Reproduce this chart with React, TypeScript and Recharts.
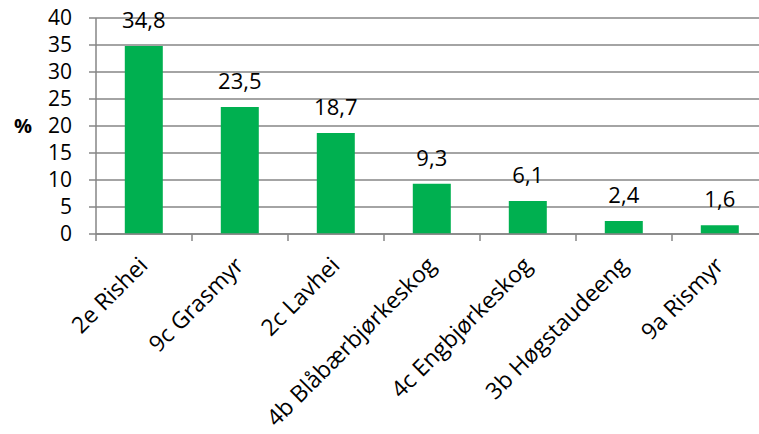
import { Bar, BarChart, CartesianGrid, LabelList, XAxis, YAxis } from "recharts";

const categories = [
  "2e Rishei",
  "9c Grasmyr",
  "2c Lavhei",
  "4b Blåbærbjørkeskog",
  "4c Engbjørkeskog",
  "3b Høgstaudeeng",
  "9a Rismyr"
];
const shares = [34.8, 23.5, 18.7, 9.3, 6.1, 2.4, 1.6];
const yTicks = [0, 5, 10, 15, 20, 25, 30, 35, 40];

const data = categories.map((name, i) => ({ name, share: shares[i] }));

const CHART_W = 790;
const CHART_H = 434;
const MARGIN = { top: 18, right: 22, left: 0, bottom: 10 };
const Y_AXIS_W = 96;
const FONT = "'Open Sans', Lato, sans-serif";
const AXIS_GREY = "#868686";

const plotWidth = CHART_W - MARGIN.left - MARGIN.right - Y_AXIS_W;
const step = plotWidth / categories.length;

function formatShare(value: number) {
  return value.toFixed(1).replace(".", ",");
}

type TickProps = { x: number; y: number; payload: { value: string } };

function CategoryTick({ x, y, payload }: TickProps) {
  const left = x - step / 2;
  const tx = x + 5;
  const ty = y + 33;
  return (
    <g>
      <line x1={left} y1={y} x2={left} y2={y + 7} stroke={AXIS_GREY} strokeWidth={1.5} />
      <text
        x={tx}
        y={ty}
        transform={`rotate(-45 ${tx} ${ty})`}
        textAnchor="end"
        fontSize={23}
        fontFamily={FONT}
        fill="#000"
      >
        {payload.value}
      </text>
    </g>
  );
}

export default function App() {
  return (
    <div
      style={{
        position: "absolute",
        left: 0,
        top: 0,
        width: 759,
        height: CHART_H,
        overflow: "hidden",
        background: "#fff"
      }}
    >
      <BarChart width={CHART_W} height={CHART_H} data={data} margin={MARGIN} barCategoryGap="30%">
        <CartesianGrid vertical={false} stroke={AXIS_GREY} strokeWidth={1.3} />
        <XAxis
          dataKey="name"
          interval={0}
          height={190}
          tickLine={false}
          tickSize={0}
          tickMargin={0}
          axisLine={{ stroke: AXIS_GREY, strokeWidth: 1.5 }}
          tick={(props: TickProps) => <CategoryTick {...props} />}
        />
        <YAxis
          width={Y_AXIS_W}
          domain={[0, 40]}
          ticks={yTicks}
          interval={0}
          tickSize={7}
          tickMargin={17}
          tickLine={{ stroke: AXIS_GREY, strokeWidth: 1.5 }}
          axisLine={{ stroke: AXIS_GREY, strokeWidth: 1.5 }}
          tick={{ fill: "#000", fontSize: 21, fontFamily: FONT }}
          label={{
            value: "%",
            position: "insideLeft",
            offset: 14,
            fill: "#000",
            fontSize: 20,
            fontWeight: "bold",
            fontFamily: FONT
          }}
        />
        <Bar dataKey="share" fill="#00B050" isAnimationActive={false}>
          <LabelList
            dataKey="share"
            position="top"
            offset={18}
            formatter={(v: number) => formatShare(v)}
            fill="#000"
            fontSize={22}
            fontFamily={FONT}
          />
        </Bar>
      </BarChart>
    </div>
  );
}
